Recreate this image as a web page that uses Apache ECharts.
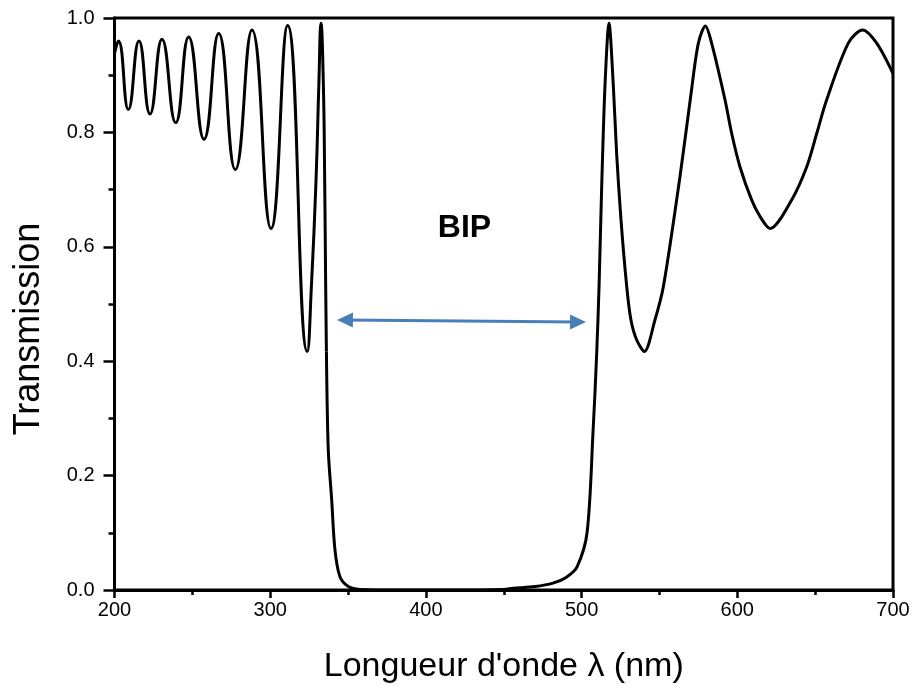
<!DOCTYPE html>
<html>
<head>
<meta charset="utf-8">
<script src="https://cdn.jsdelivr.net/npm/echarts@6/dist/echarts.min.js"></script>
<style>
  html, body { margin: 0; padding: 0; background: #fff; }
  #main { width: 915px; height: 690px; }
</style>
</head>
<body>
<div id="main"></div>
<script>
// longueur d'onde (nm) et transmission
let wavelength = [
    200, 202.5, 208.9, 215.7, 222.8, 230.5, 239.3, 247.6, 257.5, 266.9,
    277.6, 288.3, 300.5, 311.2, 323.8, 326.6, 329.4, 331.3, 332.6, 334.1,
    335.0, 335.6, 336.1, 337.3, 339.5, 341.6, 344.8, 350.2, 357.7, 380,
    420, 450, 456, 470, 481.6, 490, 497, 503.5, 507.3, 509.7,
    511.2, 512.9, 515.0, 517.6, 520.4, 522.5, 525.3, 529.0, 531.7, 535.4,
    540.3, 547.1, 552.5, 563.2, 570.3, 575, 579.5, 583.5, 592.1, 596.4,
    601.7, 609.2, 614.6, 621.0, 634.9, 644.6, 651.0, 657.4, 671.3, 680.5,
    689.5, 700
];
let transmission = [
    0.938, 0.96, 0.84, 0.96, 0.832, 0.963, 0.817, 0.967, 0.788, 0.973,
    0.735, 0.979, 0.632, 0.987, 0.417, 0.539, 0.714, 0.889, 0.991, 0.889,
    0.714, 0.539, 0.417, 0.245, 0.157, 0.07, 0.023, 0.006, 0.001, 0,
    0, 0.001, 0.003, 0.006, 0.012, 0.022, 0.04, 0.1, 0.274, 0.414,
    0.53, 0.705, 0.88, 0.991, 0.88, 0.763, 0.647, 0.53, 0.472, 0.437,
    0.417, 0.472, 0.53, 0.723, 0.868, 0.956, 0.986, 0.956, 0.857, 0.798,
    0.74, 0.682, 0.653, 0.632, 0.682, 0.74, 0.798, 0.857, 0.956, 0.979,
    0.956, 0.903
];
let xTicks = [200, 300, 400, 500, 600, 700];
let yTicks = [0.0, 0.2, 0.4, 0.6, 0.8, 1.0];
// flèche de la bande interdite
let arrowStart = [348.0, 0.472];
let arrowEnd = [497.7, 0.4685];
// la courbe est tracée en deux morceaux (lissage différent), raccord à 336.1 nm
let splitIndex = wavelength.indexOf(336.1);

let chart = echarts.init(document.getElementById("main"));

let seriesData = [];
for (let i = 0; i < wavelength.length; i++) {
    seriesData.push([wavelength[i], transmission[i]]);
}
let leftPart = seriesData.slice(0, splitIndex + 1);
let rightPart = seriesData.slice(splitIndex);

let fontName = "Liberation Sans, Arial, sans-serif";
let tickStyle = { color: "#000", width: 2.5 };
let curveStyle = { color: "#000", width: 3 };

chart.setOption({
    animation: false,
    grid: {
        left: 114.5,
        right: 22,
        top: 18,
        bottom: 100,
        outerBoundsMode: "none",
        containLabel: false,
        show: true,
        borderColor: "#000",
        borderWidth: 3,
    },
    xAxis: {
        type: "value",
        min: xTicks[0],
        max: xTicks[xTicks.length - 1],
        interval: 100,
        name: "Longueur d'onde \u03bb (nm)",
        nameLocation: "middle",
        nameGap: 60,
        nameTextStyle: { color: "#000", fontFamily: fontName, fontSize: 34 },
        axisLine: { onZero: false, lineStyle: { color: "#000", width: 3 } },
        axisTick: { inside: false, length: 8, lineStyle: tickStyle },
        minorTick: { show: true, splitNumber: 2, length: 5, lineStyle: tickStyle },
        axisLabel: { margin: 10, color: "#000", fontFamily: fontName, fontSize: 20 },
        splitLine: { show: false },
    },
    yAxis: {
        type: "value",
        min: yTicks[0],
        max: yTicks[yTicks.length - 1],
        interval: 0.2,
        name: "Transmission",
        nameLocation: "middle",
        nameGap: 67,
        nameTextStyle: {
            color: "#000",
            fontFamily: fontName,
            fontSize: 36,
            padding: [0, 50, 0, 0],
        },
        axisLine: { onZero: false, lineStyle: { color: "#000", width: 3 } },
        axisTick: { inside: false, length: 11, lineStyle: tickStyle },
        minorTick: { show: true, splitNumber: 2, length: 6, lineStyle: tickStyle },
        axisLabel: {
            margin: 20,
            color: "#000",
            fontFamily: fontName,
            fontSize: 20,
            formatter: function (v) { return v.toFixed(1); },
        },
        splitLine: { show: false },
    },
    graphic: [
        {
            type: "text",
            x: 464.5,
            y: 228,
            style: {
                text: "BIP",
                fill: "#000",
                align: "center",
                verticalAlign: "middle",
                font: "bold 32px Liberation Sans, Arial, sans-serif",
            },
        },
    ],
    series: [
        {
            type: "line",
            data: leftPart,
            smooth: 0.5,
            showSymbol: false,
            lineStyle: curveStyle,
        },
        {
            type: "line",
            data: rightPart,
            smooth: 0.3,
            showSymbol: false,
            lineStyle: curveStyle,
            markLine: {
                silent: true,
                symbol: ["triangle", "triangle"],
                symbolSize: [15, 16],
                label: { show: false },
                lineStyle: { color: "#4a7ebb", width: 3, type: "solid" },
                data: [[{ coord: arrowStart }, { coord: arrowEnd }]],
            },
        },
    ],
});
</script>
</body>
</html>
